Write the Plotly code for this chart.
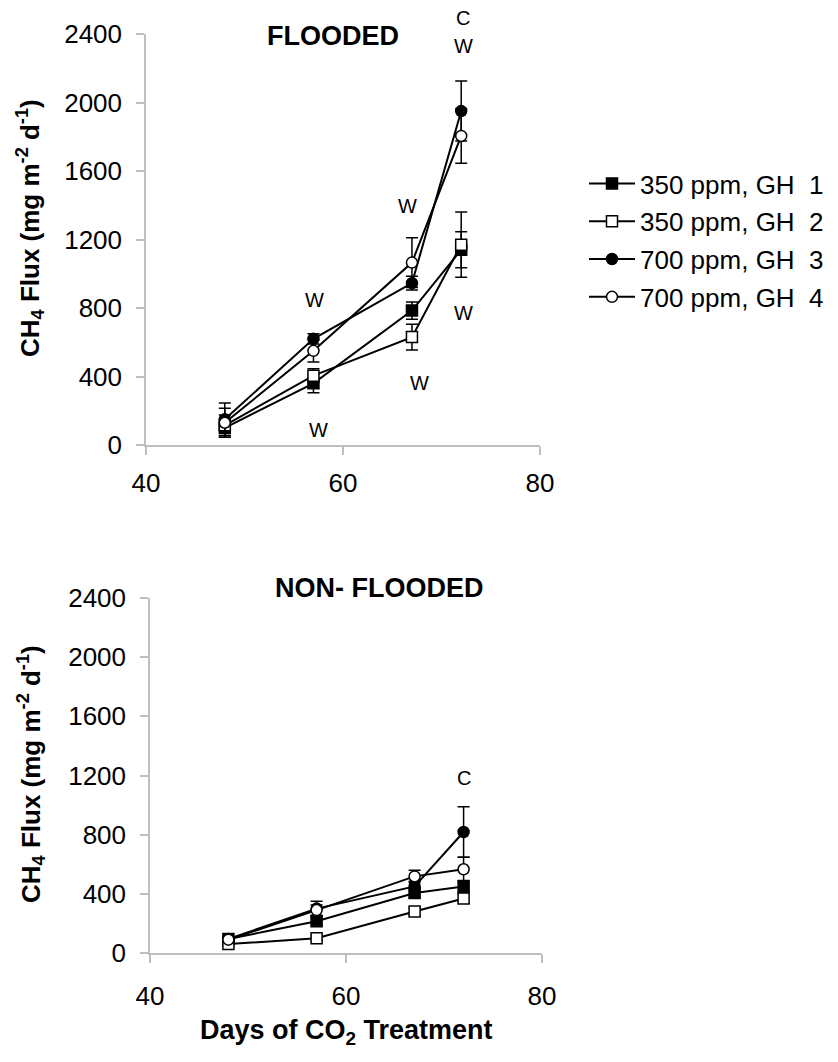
import plotly.graph_objects as go

W, H = 838, 1062
OFF = 8  # default page body margin in the exported html

days = [48, 57, 67, 72]
series_names = ["350 ppm, GH\u00a0\u00a01", "350 ppm, GH\u00a0\u00a02",
                "700 ppm, GH\u00a0\u00a03", "700 ppm, GH\u00a0\u00a04"]

# Flooded
fl_gh1 = [100, 360, 785, 1140]
fl_gh1_err = [55, 55, 50, 105]
fl_gh2 = [115, 405, 630, 1170]
fl_gh2_err = [60, 40, 75, 190]
fl_gh3 = [150, 620, 945, 1950]
fl_gh3_err = [95, 30, 40, 175]
fl_gh4 = [130, 550, 1065, 1805]
fl_gh4_err = [85, 65, 145, 160]

# Non-flooded
nf_gh1 = [95, 215, 405, 450]
nf_gh1_err = [15, 25, 30, 40]
nf_gh2 = [60, 100, 280, 368]
nf_gh2_err = [10, 15, 25, 30]
nf_gh3 = [95, 300, 450, 818]
nf_gh3_err = [15, 50, 35, 170]
nf_gh4 = [90, 290, 518, 566]
nf_gh4_err = [15, 35, 42, 82]

x_ticks = [40, 60, 80]
y_ticks = [0, 400, 800, 1200, 1600, 2000, 2400]
y_max = 2400

# significance letters
fl_letters_x = [57.1, 57.5, 66.5, 67.8, 72.2, 72.2, 72.2]
fl_letters_y = [847, 90, 1396, 362, 2495, 2332, 771]
fl_letters_t = ["W", "W", "W", "W", "C", "W", "W"]
nf_letters_x = [72.0]
nf_letters_y = [1186]
nf_letters_t = ["C"]

symbols = ["square", "square", "circle", "circle"]
fills = ["black", "white", "black", "white"]

fig = go.Figure()

fl_data = [(fl_gh1, fl_gh1_err), (fl_gh2, fl_gh2_err), (fl_gh3, fl_gh3_err), (fl_gh4, fl_gh4_err)]
nf_data = [(nf_gh1, nf_gh1_err), (nf_gh2, nf_gh2_err), (nf_gh3, nf_gh3_err), (nf_gh4, nf_gh4_err)]

for panel, data in (("", fl_data), ("2", nf_data)):
    for i, (vals, errs) in enumerate(data):
        fig.add_trace(go.Scatter(
            x=days, y=vals, name=series_names[i], mode="lines+markers",
            xaxis="x" + panel, yaxis="y" + panel, legendgroup=f"g{i}",
            showlegend=(panel == ""),
            line=dict(color="black", width=2),
            marker=dict(symbol=symbols[i], size=11, color=fills[i],
                        line=dict(color="black", width=1.5)),
            error_y=dict(type="data", array=errs, visible=True, color="black",
                         thickness=1.5, width=6),
            cliponaxis=False,
        ))

font_fam = "Liberation Sans, Arial, sans-serif"
axis_common = dict(showline=True, linecolor="#bfbfbf", linewidth=1.5, ticks="outside",
                   tickcolor="#bfbfbf", tickwidth=1.5, showgrid=False, zeroline=False,
                   automargin=False,
                   tickfont=dict(family=font_fam, size=26, color="black"))

def px_x(p):
    return (p - OFF) / W

def px_y(p):
    return 1 - (p - OFF) / H

fig.update_layout(
    template="none",
    width=W, height=H, margin=dict(l=0, r=0, t=0, b=0, pad=0, autoexpand=False),
    paper_bgcolor="white", plot_bgcolor="white",
    font=dict(family=font_fam, color="black"),
    xaxis=dict(domain=[px_x(146), px_x(540)], range=[40, 80], tickvals=x_ticks, anchor="y",
               ticklen=8, ticklabelstandoff=6, **axis_common),
    yaxis=dict(domain=[px_y(445), px_y(34)], range=[0, y_max], tickvals=y_ticks, anchor="x",
               ticklen=8, ticklabelstandoff=9, **axis_common),
    xaxis2=dict(domain=[px_x(150), px_x(542)], range=[40, 80], tickvals=x_ticks, anchor="y2",
                ticklen=8, ticklabelstandoff=11, **axis_common),
    yaxis2=dict(domain=[px_y(953), px_y(598)], range=[0, y_max], tickvals=y_ticks, anchor="x2",
                ticklen=8, ticklabelstandoff=9, **axis_common),
    showlegend=True,
    legend=dict(x=px_x(584), y=px_y(160), xanchor="left", yanchor="top",
                font=dict(family=font_fam, size=26, color="black"),
                tracegroupgap=1, itemwidth=46, bgcolor="rgba(0,0,0,0)", borderwidth=0),
)

letter_font = dict(family=font_fam, size=20, color="black")
annotations = []
for x, y, t in zip(fl_letters_x, fl_letters_y, fl_letters_t):
    if y > y_max:
        annotations.append(dict(x=x, y=y / y_max, xref="x", yref="y domain", text=t,
                                showarrow=False, xanchor="center", yanchor="middle",
                                font=letter_font))
    else:
        annotations.append(dict(x=x, y=y, xref="x", yref="y", text=t, showarrow=False,
                                xanchor="center", yanchor="middle", font=letter_font))
for x, y, t in zip(nf_letters_x, nf_letters_y, nf_letters_t):
    annotations.append(dict(x=x, y=y, xref="x2", yref="y2", text=t, showarrow=False,
                            xanchor="center", yanchor="middle", font=letter_font))

title_font = dict(family=font_fam, size=27, color="black")
ytitle_font = dict(family=font_fam, size=26, color="black")
ytitle = "<b>CH<sub>4</sub> Flux (mg m<sup>-2</sup> d<sup>-1</sup>)</b>"
for ax, ay, txt, ang, fnt in [
    (333, 36, "<b>FLOODED</b>", 0, title_font),
    (379, 588, "<b>NON- FLOODED</b>", 0, title_font),
    (30, 228, ytitle, -90, ytitle_font),
    (31, 774, ytitle, -90, ytitle_font),
    (346, 1032, "<b>Days of CO<sub>2</sub> Treatment</b>", 0, title_font),
]:
    annotations.append(dict(x=px_x(ax), y=px_y(ay), xref="paper", yref="paper", text=txt,
                            textangle=ang, showarrow=False, xanchor="center",
                            yanchor="middle", font=fnt))
fig.update_layout(annotations=annotations)

fig.write_html("out.html")
